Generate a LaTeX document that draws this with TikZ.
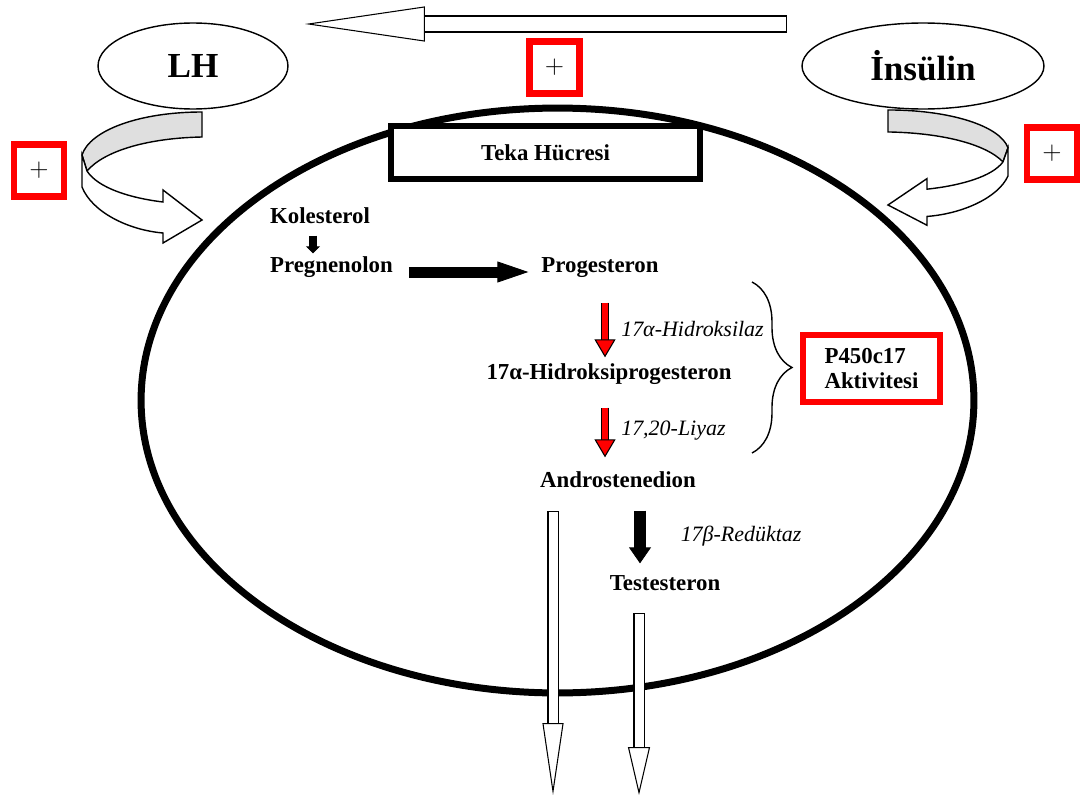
\documentclass[tikz,border=0pt]{standalone}
\usepackage{fontspec}
\setmainfont{Liberation Serif}
\usepackage{xcolor}
\usepackage{tikz}
\usetikzlibrary{shapes.geometric, arrows.meta, positioning, decorations.pathreplacing}

\definecolor{plusred}{RGB}{255,0,0}

% ribbon arrow under a hormone (LH as drawn, insulin mirrored)
\newcommand{\curlarrow}{%
  \filldraw[curl, fill=gray!25] (202,112) .. controls (140,112) and (90,130) .. (82,155)
    -- (87,171) .. controls (105,150) and (150,138) .. (202,137) -- cycle;
  \filldraw[curl, fill=white] (82,155) -- (82,187) .. controls (92,212) and (128,230) .. (163,233)
    -- (163,243) -- (202,220) -- (163,190) -- (163,202)
    .. controls (130,198) and (98,188) .. (87,171) -- cycle;
}

\begin{document}
\begin{tikzpicture}[
    x=0.02cm, y=-0.02cm,
    txt/.style={font=\fontsize{13}{14}\selectfont\bfseries, inner sep=1pt},
    stage/.style={txt, text height=9pt, text depth=3pt},
    enz/.style={font=\fontsize{12.5}{15}\selectfont\itshape, inner sep=1pt},
    hormone/.style={draw, ellipse, line width=0.8pt, minimum height=1.72cm, font=\fontsize{20}{24}\selectfont\bfseries},
    plusbox/.style={draw=plusred, line width=0.13cm, minimum width=1.0cm, minimum height=1.04cm, inner sep=0pt, font=\fontsize{15}{18}\selectfont},
    curl/.style={draw=black, line width=0.8pt},
    fatarrow/.style={line width=0.22cm, -{Triangle[length=0.62cm, width=0.42cm, line width=0.5pt]}},
    redarrow/.style={draw=black, line width=0.6pt, double=red, double distance=0.12cm, -{Triangle[length=0.36cm, width=0.42cm, line width=0.6pt, fill=red]}},
    hollow/.style={draw=black, line width=0.6pt, double=white, double distance=#1, line cap=rect}
]
\useasboundingbox (0,0) rectangle (1083,801);

% Cell
\node[draw, ellipse, line width=0.14cm, minimum width=16.66cm, minimum height=11.7cm] (cell) at (557.5,400.5) {};
\node[txt, draw, fill=white, line width=0.12cm, minimum width=6.18cm, minimum height=1.06cm] (teka) at (545.5,152.5) {Teka Hücresi};

% Hormones
\node[hormone, minimum width=3.8cm] (lh) at (193,66) {LH};
\node[hormone, minimum width=4.84cm] (ins) at (923,66) {İnsülin};
\curlarrow
\begin{scope}[shift={(1090,11.4)}, xscale=-1, yscale=0.88]
\curlarrow
\end{scope}

\node[plusbox] (plusT) at (554.5,67.5) {$+$};
\node[plusbox] (plusL) at (39,170.5) {$+$};
\node[plusbox] (plusR) at (1052,153.5) {$+$};

\coordinate (topR) at (787,24);
\coordinate (topL) at (305,24);
\draw[hollow=0.3cm, shorten <=0.17cm, -{Triangle[length=2.4cm, width=0.7cm, line width=0.6pt, fill=white]}] (topR) -- (topL);

% Steroid path
\node[stage, anchor=west] (kol) at (268,218) {Kolesterol};
\node[stage, anchor=west] (preg) at (268,267) {Pregnenolon};
\node[stage] (prog) at (600,267) {Progesteron};
\node[stage] (ohp) at (609,374) {17α-Hidroksiprogesteron};
\node[stage] (andro) at (618,482) {Androstenedion};
\node[stage] (test) at (665,585) {Testesteron};

\coordinate (axisK) at (313,0);
\coordinate (axisR) at (605,0);
\coordinate (axisB) at (640,0);
\coordinate (axisA) at (553,0);
\coordinate (axisT) at (639,0);

\draw[line width=0.16cm, -{Triangle[length=0.14cm, width=0.28cm, line width=0.5pt]}, shorten <=0.1cm, shorten >=0.02cm] (axisK |- kol.south) -- (axisK |- preg.north);
\draw[fatarrow, shorten <=0.28cm, shorten >=0.22cm] ([yshift=-0.1cm]preg.east) -- ([yshift=-0.1cm]prog.west);
\draw[redarrow, shorten <=0.46cm, shorten >=0.08cm] (axisR |- prog.south) -- (axisR |- ohp.north) node[enz, pos=0.6, right=0.28cm] {17α-Hidroksilaz};
\draw[redarrow, shorten <=0.42cm, shorten >=0.24cm] (axisR |- ohp.south) -- (axisR |- andro.north) node[enz, pos=0.53, right=0.28cm] {17,20-Liyaz};
\draw[line width=0.24cm, -{Triangle[length=0.32cm, width=0.44cm, line width=0.5pt]}, shorten <=0.32cm, shorten >=0.18cm] (axisB |- andro.south) -- (axisB |- test.north) node[enz, pos=0.53, right=0.66cm] {17β-Redüktaz};

% P450c17
\coordinate (braceT) at (752,282);
\coordinate (braceB) at (752,453);
\draw[decorate, decoration={brace, amplitude=0.8cm, aspect=0.5}, line width=0.8pt] (braceT) -- (braceB);
\node[txt, draw=plusred, line width=0.12cm, minimum width=2.74cm, minimum height=1.34cm, align=left] (p450) at (871.5,368.5) {P450c17\\Aktivitesi};

% Out of the cell
\coordinate (outA) at (553,795);
\coordinate (outT) at (639,795);
\draw[hollow=0.18cm, shorten <=0.43cm, -{Triangle[length=1.44cm, width=0.42cm, line width=0.6pt, fill=white]}] (axisA |- andro.south) -- (outA);
\draw[hollow=0.18cm, shorten <=0.41cm, -{Triangle[length=0.96cm, width=0.44cm, line width=0.6pt, fill=white]}] (axisT |- test.south) -- (outT);
\end{tikzpicture}
\end{document}
